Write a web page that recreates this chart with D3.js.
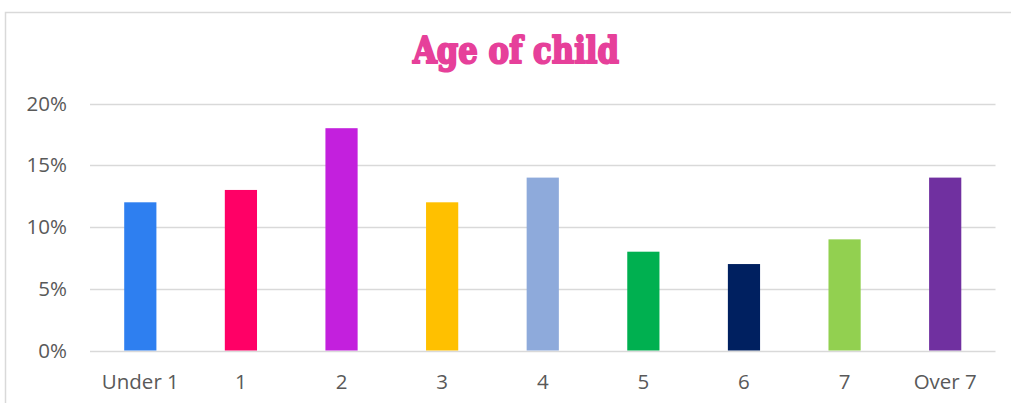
<!DOCTYPE html>
<html>
<head>
<meta charset="utf-8">
<script src="https://cdn.jsdelivr.net/npm/d3@7"></script>
<style>
  html, body { margin: 0; padding: 0; background: #fff; }
  svg { display: block; }
</style>
</head>
<body>
<svg id="chart" width="1011" height="403"></svg>
<script>
// Share of children by age group (percent)
const categories = ["Under 1", "1", "2", "3", "4", "5", "6", "7", "Over 7"];
const values = [12, 13, 18, 12, 14, 8, 7, 9, 14];
const barColors = ["#2e7ff0", "#ff0066", "#c320dd", "#ffc000", "#8eaadb", "#00b050", "#002060", "#92d050", "#7030a0"];
const yTicks = [0, 5, 10, 15, 20];
const title = "Age of child";

const svg = d3.select("#chart");
const margin = { left: 90, right: 1011 - 995.5, top: 103.5, bottom: 403 - 350.5 };
const width = 1011, height = 403;
const labelFont = "'Open Sans', sans-serif";
const labelSize = 20.5;

// chart frame
svg.append("path")
  .attr("d", `M5.5,${height} V12.5 H${width}`)
  .attr("fill", "none")
  .attr("stroke", "#d9d9d9")
  .attr("stroke-width", 1.5);

const x = d3.scaleBand()
  .domain(categories)
  .range([margin.left, width - margin.right])
  .paddingInner(0.68)
  .paddingOuter(0.34);

const y = d3.scaleLinear()
  .domain([0, 20])
  .range([height - margin.bottom, margin.top]);

// gridlines
svg.append("g")
  .selectAll("line")
  .data(yTicks)
  .join("line")
  .attr("x1", margin.left)
  .attr("x2", width - margin.right)
  .attr("y1", d => Math.round(y(d)) + 0.5)
  .attr("y2", d => Math.round(y(d)) + 0.5)
  .attr("stroke", "#d9d9d9")
  .attr("stroke-width", 1.5);

// bars
svg.append("g")
  .selectAll("rect")
  .data(values)
  .join("rect")
  .attr("x", (d, i) => x(categories[i]))
  .attr("width", x.bandwidth())
  .attr("y", d => y(d))
  .attr("height", d => y(0) - y(d))
  .attr("fill", (d, i) => barColors[i]);

// y axis labels
const yAxis = d3.axisLeft(y)
  .tickValues(yTicks)
  .tickFormat(d => d + "%")
  .tickSize(0)
  .tickPadding(0);
const gy = svg.append("g")
  .attr("transform", "translate(67,0)")
  .call(yAxis);
gy.select(".domain").remove();
gy.selectAll("text")
  .attr("font-family", labelFont)
  .attr("font-size", labelSize)
  .attr("fill", "#595959");

// x axis labels
const xAxis = d3.axisBottom(x).tickSize(0).tickPadding(0);
const gx = svg.append("g")
  .call(xAxis);
gx.select(".domain").remove();
gx.selectAll("text")
  .attr("y", 389)
  .attr("dy", null)
  .attr("font-family", labelFont)
  .attr("font-size", labelSize)
  .attr("fill", "#595959");

// title
svg.append("text")
  .attr("x", 413)
  .attr("y", 63)
  .attr("textLength", 206)
  .attr("lengthAdjust", "spacingAndGlyphs")
  .attr("font-family", "'DejaVu Serif', serif")
  .attr("font-weight", 900)
  .attr("font-size", 37)
  .attr("fill", "#e6409a")
  .attr("stroke", "#e6409a")
  .attr("stroke-width", 2.2)
  .attr("stroke-linejoin", "round")
  .text(title);
</script>
</body>
</html>
